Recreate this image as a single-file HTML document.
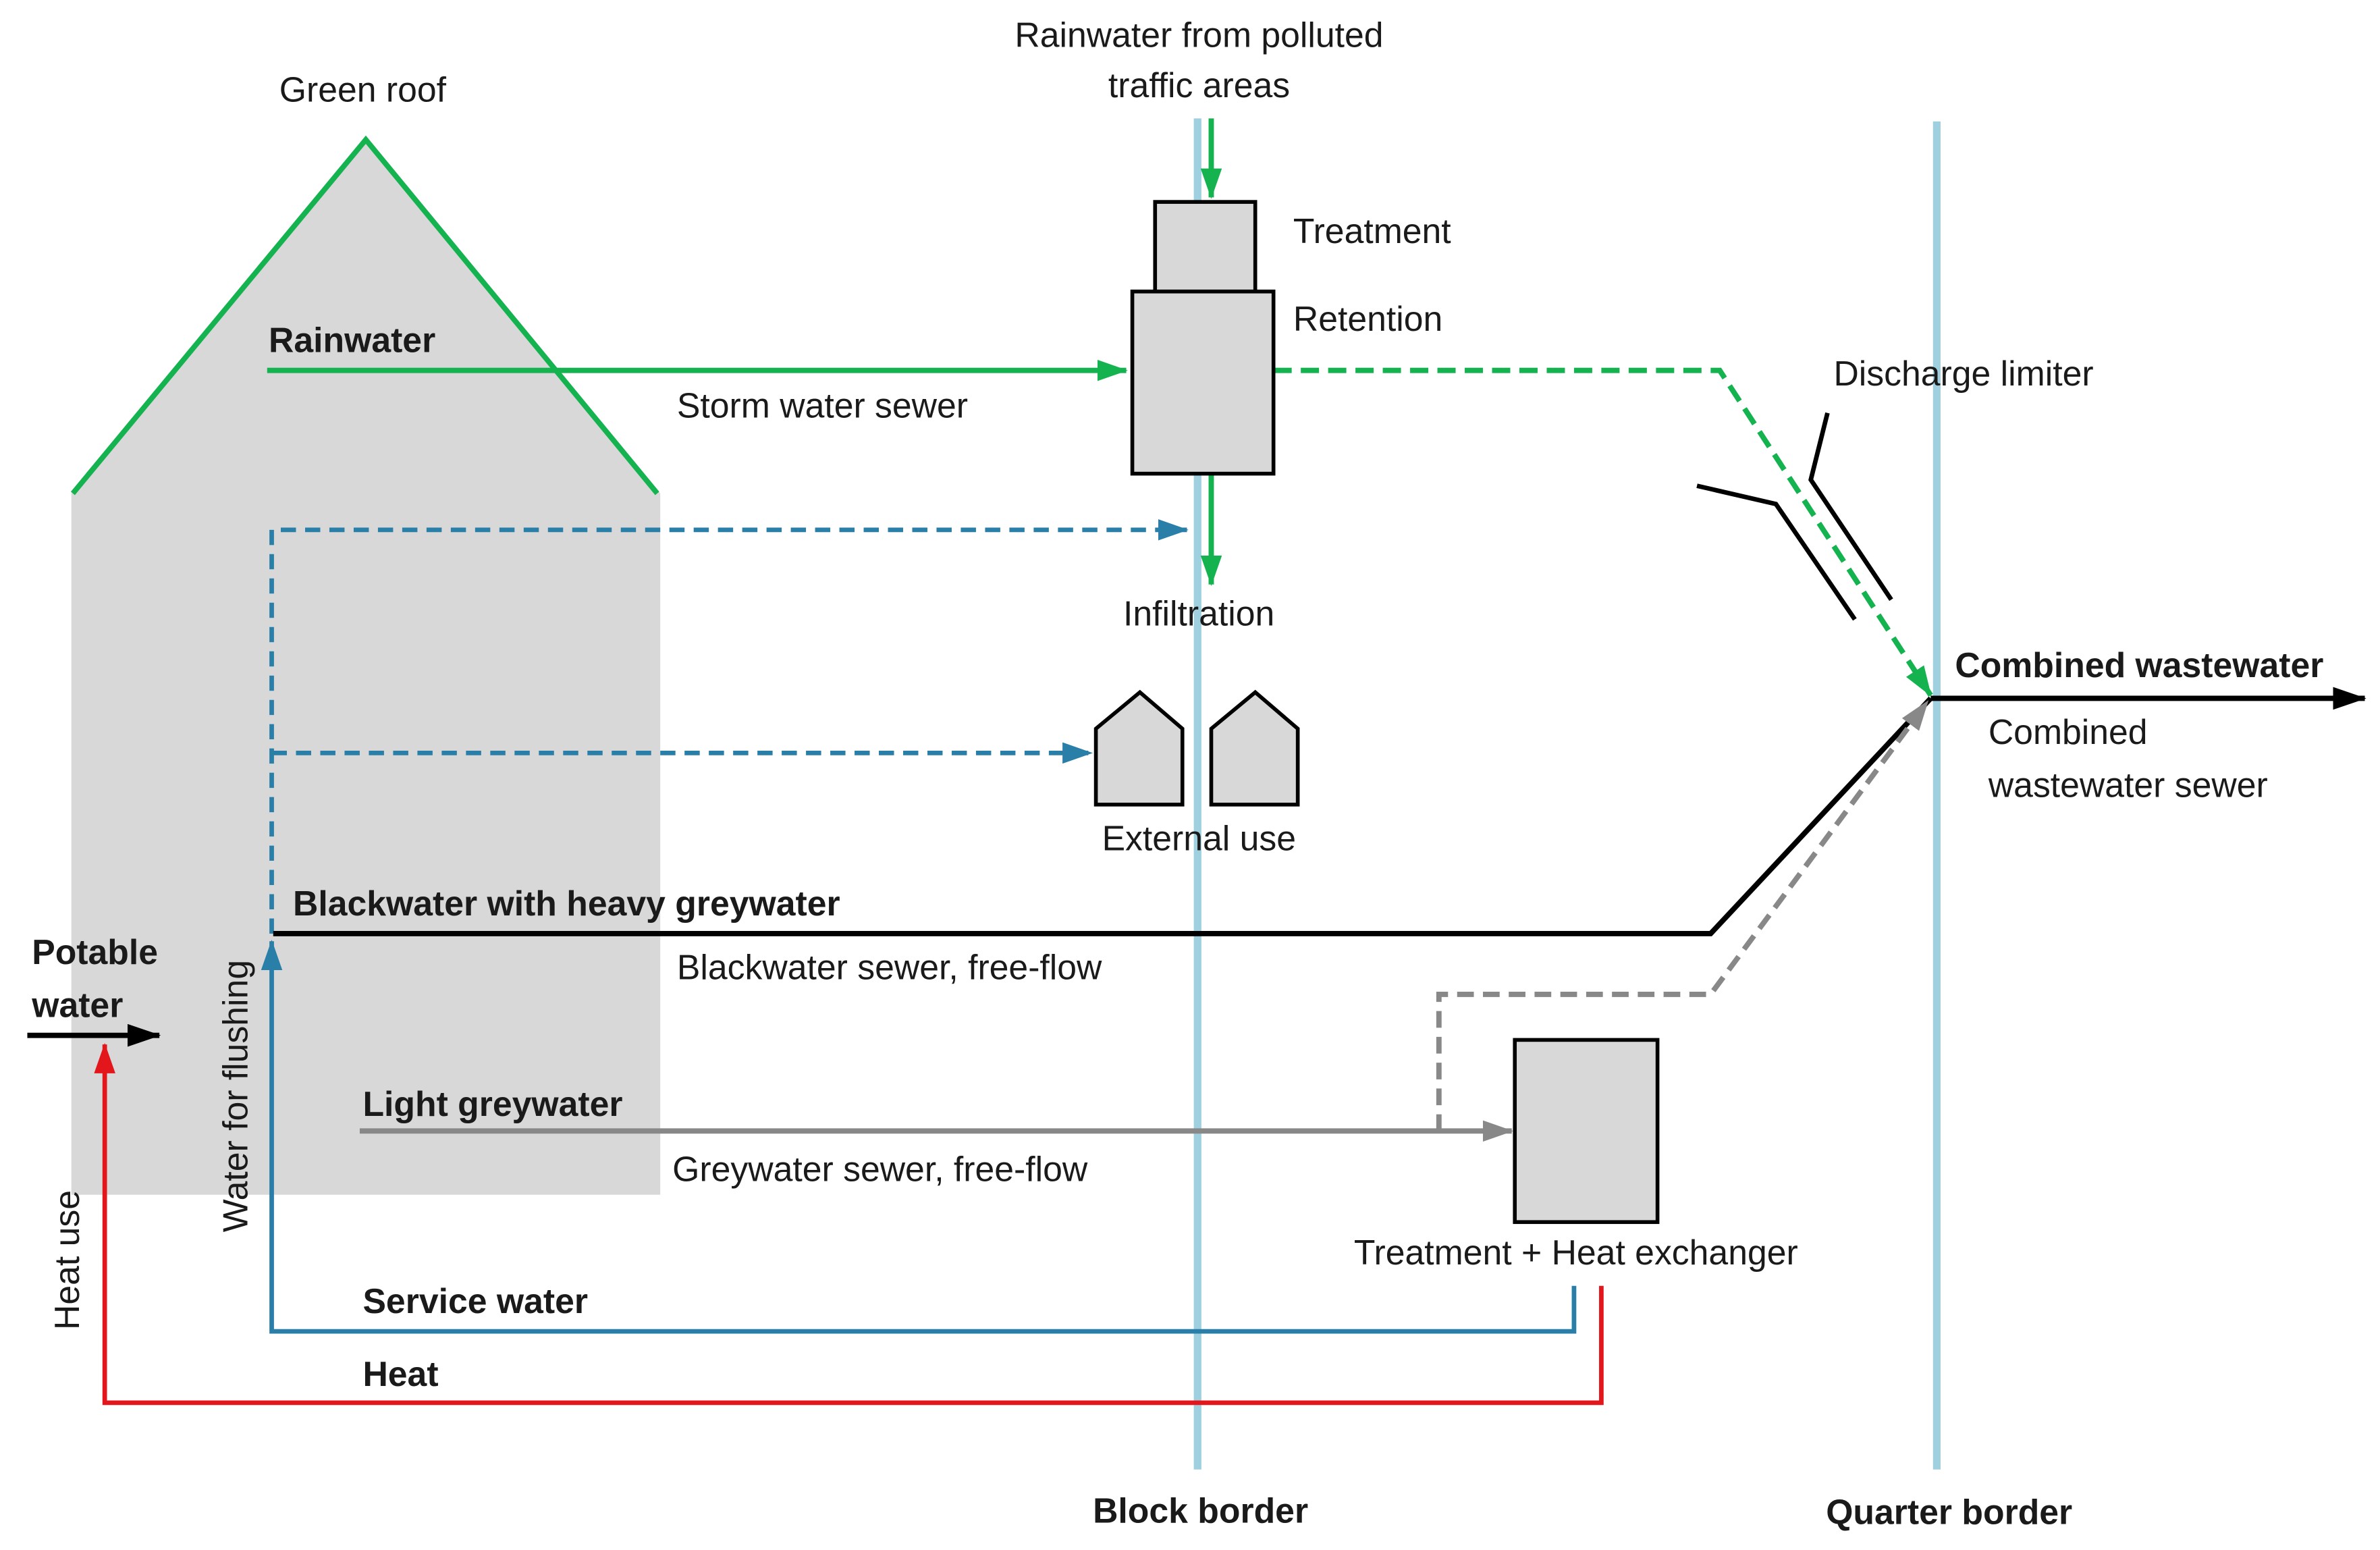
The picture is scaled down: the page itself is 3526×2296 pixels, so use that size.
<!DOCTYPE html>
<html><head><meta charset="utf-8"><style>
html,body{margin:0;padding:0;background:#fff;}
svg{display:block;}
text{font-family:"Liberation Sans Narrow","Liberation Sans",sans-serif;font-size:23px;fill:#1a1a1a;}
.b{font-weight:bold;}
</style></head><body>
<svg width="3526" height="2296" viewBox="0 0 1568 1021" xmlns="http://www.w3.org/2000/svg">
<defs>
<marker id="ag" markerWidth="20" markerHeight="14" refX="19" refY="7" orient="auto" markerUnits="userSpaceOnUse" viewBox="0 0 20 14"><path d="M0,0 L20,7 L0,14z" fill="#14b350"/></marker>
<marker id="ab" markerWidth="20" markerHeight="14" refX="19" refY="7" orient="auto" markerUnits="userSpaceOnUse" viewBox="0 0 20 14"><path d="M0,0 L20,7 L0,14z" fill="#2a7fa8"/></marker>
<marker id="ak" markerWidth="22" markerHeight="15" refX="21" refY="7.5" orient="auto" markerUnits="userSpaceOnUse" viewBox="0 0 22 15"><path d="M0,0 L22,7.5 L0,15z" fill="#000"/></marker>
<marker id="ay" markerWidth="20" markerHeight="14" refX="19" refY="7" orient="auto" markerUnits="userSpaceOnUse" viewBox="0 0 20 14"><path d="M0,0 L20,7 L0,14z" fill="#888"/></marker>
<marker id="ar" markerWidth="20" markerHeight="14" refX="19" refY="7" orient="auto" markerUnits="userSpaceOnUse" viewBox="0 0 20 14"><path d="M0,0 L20,7 L0,14z" fill="#e3161b"/></marker>
</defs>
<polygon points="47,325 241,92 435,325 435,787 47,787" fill="#d8d8d8"/>
<polyline points="48,325 241,92 433,325" fill="none" stroke="#14b350" stroke-width="3.5"/>
<line x1="789" y1="78" x2="789" y2="968" stroke="#9fd0e0" stroke-width="5"/>
<line x1="1276" y1="80" x2="1276" y2="968" stroke="#9fd0e0" stroke-width="5"/>
<line x1="176" y1="244" x2="742" y2="244" stroke="#14b350" stroke-width="3.5" marker-end="url(#ag)"/>
<line x1="798" y1="78" x2="798" y2="130" stroke="#14b350" stroke-width="3.5" marker-end="url(#ag)"/>
<line x1="798" y1="312" x2="798" y2="385" stroke="#14b350" stroke-width="3.5" marker-end="url(#ag)"/>
<polyline points="839,244 1133,244 1272,458" fill="none" stroke="#14b350" stroke-width="3.5" stroke-dasharray="12,6" marker-end="url(#ag)"/>
<rect x="761" y="133" width="66" height="59" fill="#d8d8d8" stroke="#000" stroke-width="2.5"/>
<rect x="746" y="192" width="93" height="120" fill="#d8d8d8" stroke="#000" stroke-width="2.5"/>
<rect x="998" y="685" width="94" height="120" fill="#d8d8d8" stroke="#000" stroke-width="2.5"/>
<polyline points="1118,320 1170,332 1222,408" fill="none" stroke="#000" stroke-width="3"/>
<polyline points="1204,272 1193,316 1246,395" fill="none" stroke="#000" stroke-width="3"/>
<polyline points="179,615 179,349 782,349" fill="none" stroke="#2a7fa8" stroke-width="3" stroke-dasharray="10,6" marker-end="url(#ab)"/>
<line x1="179" y1="496" x2="719" y2="496" stroke="#2a7fa8" stroke-width="3" stroke-dasharray="10,6" marker-end="url(#ab)"/>
<polygon points="722,480 751,456 779,480 779,530 722,530" fill="#d8d8d8" stroke="#000" stroke-width="2.5"/>
<polygon points="798,480 827,456 855,480 855,530 798,530" fill="#d8d8d8" stroke="#000" stroke-width="2.5"/>
<polyline points="180,615 1127,615 1272,460" fill="none" stroke="#000" stroke-width="3.5"/>
<line x1="1272" y1="460" x2="1558" y2="460" stroke="#000" stroke-width="3.5" marker-end="url(#ak)"/>
<line x1="18" y1="682" x2="105" y2="682" stroke="#000" stroke-width="3.5" marker-end="url(#ak)"/>
<polyline points="948,745 948,655 1127,655 1270,462" fill="none" stroke="#888" stroke-width="3.5" stroke-dasharray="11,6" marker-end="url(#ay)"/>
<line x1="237" y1="745" x2="996" y2="745" stroke="#888" stroke-width="3.5" marker-end="url(#ay)"/>
<polyline points="1037,847 1037,877 179,877 179,620" fill="none" stroke="#2a7fa8" stroke-width="3" marker-end="url(#ab)"/>
<polyline points="1055,847 1055,924 69,924 69,688" fill="none" stroke="#e3161b" stroke-width="3" marker-end="url(#ar)"/>
<text x="184" y="67">Green roof</text>
<text x="790" y="31" text-anchor="middle">Rainwater from polluted</text>
<text x="790" y="64" text-anchor="middle">traffic areas</text>
<text x="852" y="160">Treatment</text>
<text x="852" y="218">Retention</text>
<text x="177" y="232" class="b">Rainwater</text>
<text x="446" y="275">Storm water sewer</text>
<text x="1208" y="254">Discharge limiter</text>
<text x="740" y="412">Infiltration</text>
<text x="726" y="560">External use</text>
<text x="1288" y="446" class="b">Combined wastewater</text>
<text x="1310" y="490">Combined</text>
<text x="1310" y="525">wastewater sewer</text>
<text x="193" y="603" class="b">Blackwater with heavy greywater</text>
<text x="446" y="645">Blackwater sewer, free-flow</text>
<text x="21" y="635" class="b">Potable</text>
<text x="21" y="670" class="b">water</text>
<text x="239" y="735" class="b">Light greywater</text>
<text x="443" y="778">Greywater sewer, free-flow</text>
<text x="892" y="833">Treatment + Heat exchanger</text>
<text x="239" y="865" class="b">Service water</text>
<text x="239" y="913" class="b">Heat</text>
<text transform="translate(163,722) rotate(-90)" text-anchor="middle">Water for flushing</text>
<text transform="translate(52,830) rotate(-90)" text-anchor="middle">Heat use</text>
<text x="720" y="1003" class="b">Block border</text>
<text x="1203" y="1004" class="b">Quarter border</text>
</svg>
</body></html>
